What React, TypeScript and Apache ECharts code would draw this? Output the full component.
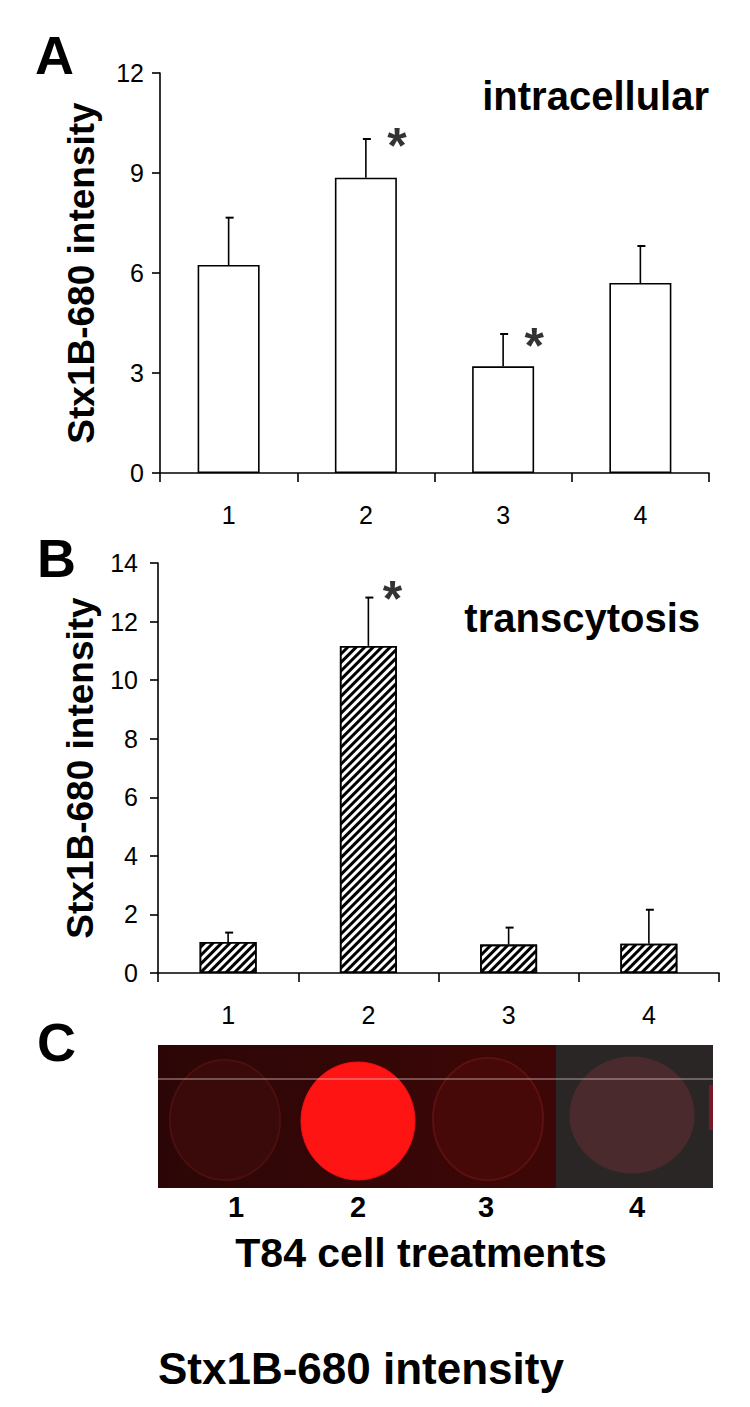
import React, { useEffect, useRef } from "react";
import * as echarts from "echarts";

const categories = ["1", "2", "3", "4"];
const intracellular = [6.24, 8.86, 3.2, 5.7];
const intracellularErr = [1.42, 1.16, 0.97, 1.11];
const intracellularSig = [null, 10.2, 4.2, null];
const transcytosis = [1.06, 11.17, 0.97, 1.0];
const transcytosisErr = [0.32, 1.65, 0.58, 1.16];
const transcytosisSig = [null, 13.2, null, null];
const wellLabels = ["1", "2", "3", "4"];
const FONT = "'Liberation Sans', Arial, sans-serif";

function errRender(params: any, api: any) {
  const i = api.value(0);
  const v = api.value(1);
  const e = api.value(2);
  const p0 = api.coord([i, v]);
  const p1 = api.coord([i, v + e]);
  return {
    type: "group",
    children: [
      { type: "line", shape: { x1: p0[0], y1: p0[1], x2: p1[0], y2: p1[1] }, style: { stroke: "#000", lineWidth: 1.6 } },
      { type: "line", shape: { x1: p1[0] - 3, y1: p1[1], x2: p1[0] + 5, y2: p1[1] }, style: { stroke: "#000", lineWidth: 2 } },
    ],
  };
}

function sigData(arr: (number | null)[]) {
  const out: any[] = [];
  arr.forEach((v, i) => {
    if (v !== null) out.push([i, v]);
  });
  return out;
}

export default function App() {
  const ref = useRef<HTMLDivElement>(null);
  useEffect(() => {
    document.body.style.margin = "0";
    const chart = echarts.init(ref.current!, null, { renderer: "svg" });
    const axisLine = { lineStyle: { color: "#000", width: 1.6 } };
    const yCommon = (min: number, max: number, interval: number, gap: number, margin: number) => ({
      type: "value",
      min,
      max,
      interval,
      name: "Stx1B-680 intensity",
      nameLocation: "middle",
      nameRotate: 90,
      nameGap: gap,
      nameTextStyle: { fontFamily: FONT, fontWeight: "bold", fontSize: 37, color: "#000" },
      axisLine: { show: true, ...axisLine },
      axisTick: { show: true, length: 8, lineStyle: { color: "#000", width: 1.6 } },
      axisLabel: { fontFamily: FONT, fontSize: 25, color: "#000", margin },
      splitLine: { show: false },
    });
    const xCommon = (gi: number) => ({
      type: "category",
      gridIndex: gi,
      data: categories,
      boundaryGap: true,
      axisLine: { show: true, ...axisLine },
      axisTick: { show: true, length: 9, interval: 0, lineStyle: { color: "#000", width: 1.6 } },
      axisLabel: { fontFamily: FONT, fontSize: 25, color: "#000", margin: 29 },
    });
    const sigLabel = (dx: number) => ({
      show: true,
      formatter: "*",
      position: "inside",
      offset: [dx, 13],
      fontFamily: FONT,
      fontWeight: "bold",
      fontSize: 50,
      color: "#000",
      textBorderWidth: 0,
      textBorderColor: "transparent",
    });
    chart.setOption({
      animation: false,
      backgroundColor: "#fff",
      grid: [
        { left: 160, top: 73, width: 549, height: 400 },
        { left: 158, top: 563, width: 561, height: 410 },
      ],
      xAxis: [xCommon(0), xCommon(1)],
      yAxis: [
        { ...yCommon(0, 12, 3, 60, 16), gridIndex: 0 },
        { ...yCommon(0, 14, 2, 58, 20), gridIndex: 1 },
      ],
      series: [
        {
          type: "bar",
          xAxisIndex: 0,
          yAxisIndex: 0,
          data: intracellular,
          barWidth: 62,
          itemStyle: { color: "#fff", borderColor: "#000", borderWidth: 1.6 },
        },
        {
          type: "custom",
          xAxisIndex: 0,
          yAxisIndex: 0,
          data: intracellular.map((v, i) => [i, v, intracellularErr[i]]),
          renderItem: errRender,
          z: 5,
        },
        {
          type: "scatter",
          xAxisIndex: 0,
          yAxisIndex: 0,
          data: sigData(intracellularSig),
          symbolSize: 1,
          itemStyle: { color: "rgba(0,0,0,0)" },
          label: sigLabel(31),
          z: 6,
        },
        {
          type: "bar",
          xAxisIndex: 1,
          yAxisIndex: 1,
          data: transcytosis,
          barWidth: 57,
          itemStyle: {
            color: "#fff",
            borderColor: "#000",
            borderWidth: 1.6,
            decal: {
              symbol: "rect",
              symbolSize: 1,
              dashArrayX: [1, 0],
              dashArrayY: [2.5, 2.5],
              rotation: -Math.PI / 4,
              color: "#000",
            },
          },
        },
        {
          type: "custom",
          xAxisIndex: 1,
          yAxisIndex: 1,
          data: transcytosis.map((v, i) => [i, v, transcytosisErr[i]]),
          renderItem: errRender,
          z: 5,
        },
        {
          type: "scatter",
          xAxisIndex: 1,
          yAxisIndex: 1,
          data: sigData(transcytosisSig),
          symbolSize: 1,
          itemStyle: { color: "rgba(0,0,0,0)" },
          label: sigLabel(24),
          z: 6,
        },
      ],
      graphic: [
        { type: "text", x: 35, y: 55, style: { text: "A", font: `bold 54px ${FONT}`, fill: "#000", textVerticalAlign: "middle" } },
        { type: "text", x: 37, y: 558, style: { text: "B", font: `bold 54px ${FONT}`, fill: "#000", textVerticalAlign: "middle" } },
        { type: "text", x: 37, y: 1042, style: { text: "C", font: `bold 54px ${FONT}`, fill: "#000", textVerticalAlign: "middle" } },
        { type: "text", x: 709, y: 96, style: { text: "intracellular", font: `bold 40px ${FONT}`, fill: "#000", textAlign: "right", textVerticalAlign: "middle" } },
        { type: "text", x: 700, y: 618, style: { text: "transcytosis", font: `bold 40px ${FONT}`, fill: "#000", textAlign: "right", textVerticalAlign: "middle" } },
        {
          type: "group",
          children: [
            {
              type: "rect",
              shape: { x: 158, y: 1045, width: 400, height: 143 },
              style: {
                fill: new echarts.graphic.LinearGradient(0, 0, 1, 0, [
                  { offset: 0, color: "#2c0606" },
                  { offset: 1, color: "#3e0707" },
                ]),
              },
            },
            { type: "rect", shape: { x: 556, y: 1045, width: 157, height: 143 }, style: { fill: "#2a2626" } },
            { type: "ellipse", shape: { cx: 225, cy: 1120, rx: 55, ry: 60 }, style: { fill: "#3a0909", stroke: "#4c0f0f", lineWidth: 2 } },
            { type: "ellipse", shape: { cx: 358, cy: 1121, rx: 57, ry: 59 }, style: { fill: "#ff1414", stroke: "#f01010", lineWidth: 1 } },
            { type: "ellipse", shape: { cx: 488, cy: 1119, rx: 55, ry: 61 }, style: { fill: "#470808", stroke: "#5e1010", lineWidth: 2 } },
            { type: "ellipse", shape: { cx: 632, cy: 1115, rx: 62, ry: 58 }, style: { fill: "#4a2a2c", stroke: "#4e2a2c", lineWidth: 1 } },
            { type: "rect", shape: { x: 709, y: 1085, width: 4, height: 45 }, style: { fill: "#7a1828" } },
            { type: "line", shape: { x1: 158, y1: 1079, x2: 713, y2: 1079 }, style: { stroke: "rgba(215,190,190,0.8)", lineWidth: 1 } },
          ],
        },
        { type: "text", x: 236, y: 1207, style: { text: wellLabels[0], font: `bold 29px ${FONT}`, fill: "#000", textAlign: "center", textVerticalAlign: "middle" } },
        { type: "text", x: 358, y: 1207, style: { text: wellLabels[1], font: `bold 29px ${FONT}`, fill: "#000", textAlign: "center", textVerticalAlign: "middle" } },
        { type: "text", x: 486, y: 1207, style: { text: wellLabels[2], font: `bold 29px ${FONT}`, fill: "#000", textAlign: "center", textVerticalAlign: "middle" } },
        { type: "text", x: 637, y: 1207, style: { text: wellLabels[3], font: `bold 29px ${FONT}`, fill: "#000", textAlign: "center", textVerticalAlign: "middle" } },
        { type: "text", x: 421, y: 1253, style: { text: "T84 cell treatments", font: `bold 41px ${FONT}`, fill: "#000", textAlign: "center", textVerticalAlign: "middle" } },
        { type: "text", x: 158, y: 1368, style: { text: "Stx1B-680 intensity", font: `bold 44px ${FONT}`, fill: "#000", textAlign: "left", textVerticalAlign: "middle" } },
      ],
    });
    return () => chart.dispose();
  }, []);
  return <div ref={ref} style={{ width: 750, height: 1407 }} />;
}
